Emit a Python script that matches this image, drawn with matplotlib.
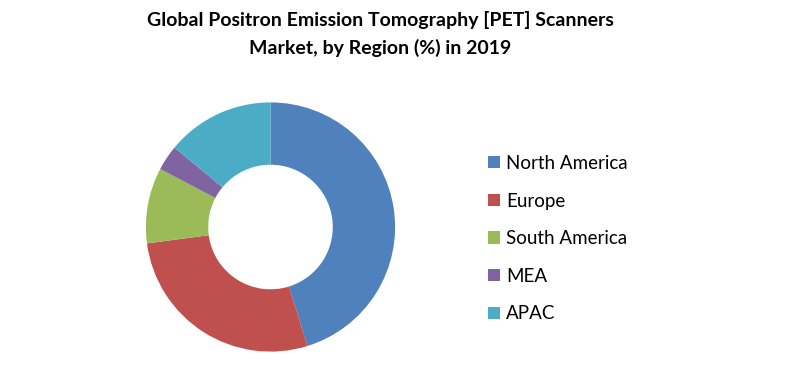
import matplotlib
matplotlib.use("Agg")
import matplotlib.pyplot as plt
from matplotlib.patches import Patch

plt.rcParams['font.family'] = ['Lato', 'DejaVu Sans']

regions = ["North America", "Europe", "South America", "MEA", "APAC"]
shares = [45.2, 27.7, 9.8, 3.3, 14.0]
colors = ["#4F81BD", "#C0504D", "#9BBB59", "#8064A2", "#4BACC6"]
title = "Global Positron Emission Tomography [PET] Scanners\nMarket, by Region (%) in 2019"

W, H = 788, 385
fig = plt.figure(figsize=(W / 100, H / 100), dpi=100)

cx, cy, r = 270.5, 227, 124.6
ax = fig.add_axes([(cx - r) / W, (H - cy - r) / H, 2 * r / W, 2 * r / H])
ax.pie(shares, colors=colors, startangle=90, counterclock=False, radius=1,
       wedgeprops=dict(width=0.5, edgecolor='none'))
ax.set_xlim(-1, 1)
ax.set_ylim(-1, 1)
ax.set_aspect('equal')
ax.axis('off')

fig.text(380 / W, 1 - 34 / H, title, ha='center', va='center',
         fontsize=14, fontweight='bold', linespacing=1.6)

handles = [Patch(facecolor=c, edgecolor='none') for c in colors]
fig.legend(handles, regions, loc='upper left', bbox_to_anchor=(479 / W, 1 - 145.5 / H),
           frameon=False, fontsize=13.5, handlelength=0.64, handleheight=0.64,
           handletextpad=0.3, labelspacing=1.1, borderpad=0)

fig.savefig("out.png", dpi=100)
